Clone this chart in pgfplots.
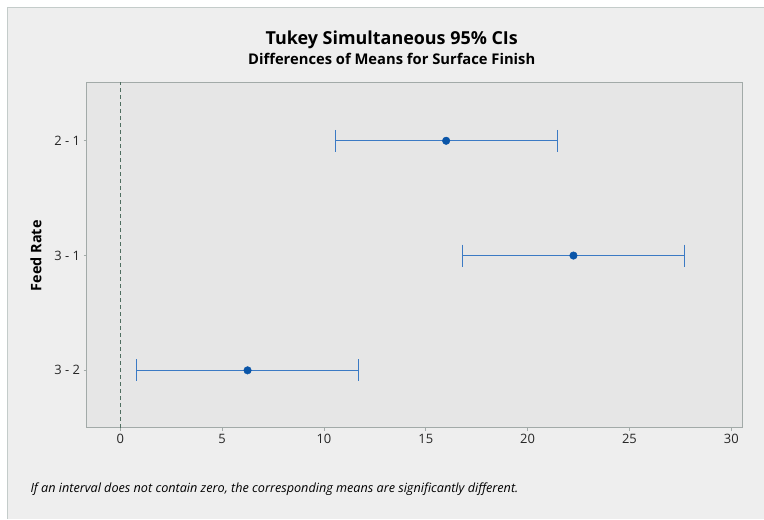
\documentclass[border=0pt]{standalone}
\usepackage{pgfplots}
\pgfplotsset{compat=1.18}
\usepackage{fontspec}
\setmainfont{Open Sans}
\definecolor{panel}{HTML}{EEEEEE}
\definecolor{panelborder}{HTML}{C4CCCA}
\definecolor{plotbg}{HTML}{E6E6E6}
\definecolor{framegray}{HTML}{A2AAA8}
\definecolor{zeroline}{HTML}{4F6E60}
\definecolor{cibar}{HTML}{3B7AC4}
\definecolor{cidot}{HTML}{0A55A8}
\begin{document}
\begin{tikzpicture}
\fill[white] (0bp,0bp) rectangle (764bp,519bp);
\fill[panel] (8bp,0bp) rectangle (764bp,511bp);
\draw[panelborder, line width=1bp] (8bp,0bp) -- (8bp,511bp) -- (764bp,511bp);
\node[font=\bfseries\fontsize{18}{21}\selectfont, anchor=base] at (392bp,474bp) {Tukey Simultaneous 95\% CIs};
\node[font=\bfseries\fontsize{14.8}{17}\selectfont, anchor=base] at (392bp,454bp) {Differences of Means for Surface Finish};
\node[font=\bfseries\fontsize{14.5}{17}\selectfont, rotate=90] at (36bp,263bp) {Feed Rate};
\node[font=\itshape\fontsize{12.7}{15}\selectfont, anchor=base west] at (27bp,26bp) {If an interval does not contain zero, the corresponding means are significantly different.};
\begin{axis}[
  at={(86.7bp,91bp)}, anchor=south west,
  scale only axis, width=656.3bp, height=345.7bp,
  xmin=-1.65, xmax=30.55, ymin=0.5, ymax=3.51,
  xtick={0,5,10,15,20,25,30},
  ytick={1,2,3}, yticklabels={3 - 2, 3 - 1, 2 - 1},
  tick align=outside, tick pos=left,
  major tick length=3bp,
  axis line style={framegray, line width=0.8bp},
  every tick/.style={framegray, line width=0.6bp},
  axis background/.style={fill=plotbg},
  ticklabel style={font=\fontsize{13}{15}\selectfont, text=black!85},
  /pgf/number format/assume math mode=true,
  clip=false,
  ci/.style={draw=cibar, line width=1.1bp, mark=|, mark size=11bp, mark options={solid, draw=cibar}},
]
\addplot[draw=zeroline, dash pattern=on 4bp off 3bp, line width=0.8bp] coordinates {(0,0.5) (0,3.51)};
\addplot[ci] coordinates {(10.55,3) (21.45,3)};
\addplot[ci] coordinates {(16.8,2) (27.7,2)};
\addplot[ci] coordinates {(0.8,1) (11.7,1)};
\addplot[only marks, mark=*, mark size=3.8bp, color=cidot, mark options={fill=cidot, draw=cidot}] coordinates {(16.0,3) (22.25,2) (6.25,1)};
\end{axis}
\end{tikzpicture}
\end{document}
